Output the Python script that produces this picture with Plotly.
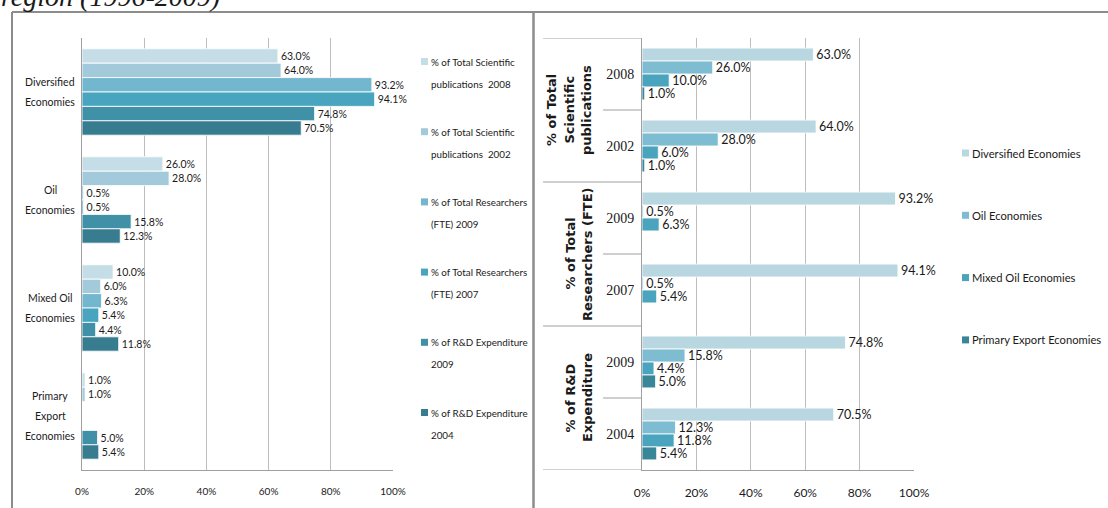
import plotly.graph_objects as go

W, H = 1108, 508

# ---- data -------------------------------------------------------------
economies = ["Diversified Economies", "Oil Economies",
             "Mixed Oil Economies", "Primary Export Economies"]
economy_labels = ["Diversified<br>Economies", "Oil<br>Economies",
                  "Mixed Oil<br>Economies", "Primary<br>Export<br>Economies"]

indicator_names = [
    "% of Total Scientific<br>publications  2008",
    "% of Total Scientific<br>publications  2002",
    "% of Total Researchers<br>(FTE) 2009",
    "% of Total Researchers<br>(FTE) 2007",
    "% of R&D Expenditure<br>2009",
    "% of R&D Expenditure<br>2004",
]

# share (%) of each economy group, one list per indicator
pubs_2008 = [63.0, 26.0, 10.0, 1.0]
pubs_2002 = [64.0, 28.0, 6.0, 1.0]
researchers_2009 = [93.2, 0.5, 6.3, None]
researchers_2007 = [94.1, 0.5, 5.4, None]
rnd_2009 = [74.8, 15.8, 4.4, 5.0]
rnd_2004 = [70.5, 12.3, 11.8, 5.4]
indicator_values = [pubs_2008, pubs_2002, researchers_2009,
                    researchers_2007, rnd_2009, rnd_2004]

indicator_ids = ["pubs-2008", "pubs-2002", "res-2009",
                 "res-2007", "rnd-2009", "rnd-2004"]
indicator_years = ["2008", "2002", "2009", "2007", "2009", "2004"]
indicator_groups = ["% of Total<br>Scientific<br>publications",
                    "% of Total<br>Researchers (FTE)",
                    "% of R&D<br>Expenditure"]

x_ticks = [0, 20, 40, 60, 80, 100]
x_tick_labels = ["0%", "20%", "40%", "60%", "80%", "100%"]

left_colors = ["#c4dde6", "#a3cadb", "#72b7ce", "#49a5bf", "#4090a7", "#387c90"]
right_colors = ["#b8d7e1", "#7ebdd1", "#4aa4bd", "#3a8699"]

SANS = "Lato, Liberation Sans, sans-serif"
SERIF = "Liberation Serif, Times New Roman, serif"
BOLD = "DejaVu Sans, Verdana, sans-serif"
INK = "#1a1a1a"
GRID = "#bdbdbd"
FRAME = "#8c8c8c"


def px(x):
    return x / W


def py(y):
    return 1 - y / H


def pct(v):
    return "" if v is None else f"{v:.1f}%"


fig = go.Figure()

# ---- left panel: one trace per indicator --------------------------------
for name, vals, col in zip(indicator_names, indicator_values, left_colors):
    fig.add_trace(go.Bar(
        y=economies, x=vals, orientation="h", name=name.replace("<br>", " "),
        marker=dict(color=col, line=dict(color="rgba(255,255,255,0.85)", width=1)),
        text=[pct(v) for v in vals], textposition="outside",
        textfont=dict(family=SANS, size=10.5, color=INK),
        constraintext="none", cliponaxis=False,
        xaxis="x", yaxis="y", showlegend=False, hoverinfo="skip",
    ))

# ---- right panel: one trace per economy group ---------------------------
n_eco = len(economies)
band = 0.72
bw = band / n_eco
for k, (eco, col) in enumerate(zip(economies, right_colors)):
    vals = [series[k] for series in indicator_values]
    fig.add_trace(go.Bar(
        y=indicator_ids, x=vals, orientation="h", name=eco,
        width=bw, offset=-band / 2 + k * bw,
        marker=dict(color=col, line=dict(color="rgba(255,255,255,0.85)", width=1)),
        text=[pct(v) for v in vals], textposition="outside",
        textfont=dict(family=SANS, size=12.5, color=INK),
        constraintext="none", cliponaxis=False,
        xaxis="x2", yaxis="y2", showlegend=False, hoverinfo="skip",
    ))

ydom = [py(470), py(38)]
axis_common = dict(range=[0, 100], tickmode="array", tickvals=x_ticks,
                   ticktext=x_tick_labels, automargin=False,
                   showgrid=True, gridcolor=GRID, gridwidth=1,
                   showline=True, linecolor="#a0a0a0", linewidth=1,
                   ticks="", zeroline=False, fixedrange=True)

fig.update_layout(
    width=W, height=H,
    margin=dict(l=0, r=0, t=0, b=0, pad=0, autoexpand=False),
    paper_bgcolor="white", plot_bgcolor="white",
    barmode="group", bargap=0.2, bargroupgap=0,
    xaxis=dict(domain=[px(82), px(393)], anchor="y",
               tickfont=dict(family=SANS, size=10, color=INK),
               ticklabelstandoff=12, **axis_common),
    yaxis=dict(domain=ydom, anchor="x", type="category", automargin=False,
               categoryarray=economies, range=[len(economies) - 0.5, -0.5],
               showticklabels=False, showgrid=False, showline=True,
               linecolor="#a0a0a0", ticks="", fixedrange=True),
    xaxis2=dict(domain=[px(642), px(914)], anchor="y2",
                tickfont=dict(family=SANS, size=12, color=INK),
                ticklabelstandoff=12, **axis_common),
    yaxis2=dict(domain=ydom, anchor="x2", type="category", automargin=False,
                categoryarray=indicator_ids,
                range=[len(indicator_ids) - 0.5, -0.5],
                tickmode="array", tickvals=indicator_ids, ticktext=indicator_years,
                tickfont=dict(family=SERIF, size=14, color=INK),
                ticklabelstandoff=4,
                showgrid=False, showline=True, linecolor="#a0a0a0",
                ticks="", fixedrange=True),
    showlegend=False,
)

shapes = []
annotations = []

# panel frames
frame = dict(type="line", xref="paper", yref="paper",
             line=dict(color=FRAME, width=2))
shapes.append(dict(frame, x0=px(12), x1=px(W + 5), y0=py(12), y1=py(12)))
shapes.append(dict(frame, x0=px(12), x1=px(12), y0=py(12), y1=py(H + 5)))
shapes.append(dict(frame, x0=px(533.5), x1=px(533.5), y0=py(12), y1=py(H + 5),
                   line=dict(color=FRAME, width=2.5)))

# left category labels, centred on each band
for eco, lab in zip(economies, economy_labels):
    lines = lab.split("<br>")
    n = len(lines)
    for i, t in enumerate(lines):
        annotations.append(dict(
            text=t, xref="paper", yref="y", x=px(50), y=eco,
            xanchor="center", yanchor="middle", showarrow=False,
            yshift=-(i - (n - 1) / 2) * 20,
            font=dict(family=SANS, size=10.5, color=INK)))

# left legend
for k, (name, col) in enumerate(zip(indicator_names, left_colors)):
    yc = 61.5 + 70.2 * k
    shapes.append(dict(type="rect", xref="paper", yref="paper",
                       x0=px(421), x1=px(428), y0=py(yc + 3.5), y1=py(yc - 3.5),
                       fillcolor=col, line=dict(width=0)))
    for i, t in enumerate(name.split("<br>")):
        annotations.append(dict(
            text=t, xref="paper", yref="paper", x=px(429), y=py(yc + 22 * i),
            xanchor="left", yanchor="middle", showarrow=False,
            font=dict(family=SANS, size=9.8, color=INK)))

# right category frame: group dividers and inner dividers
div = dict(type="line", xref="paper", yref="y2", line=dict(color="#a0a0a0", width=1))
for b in [-0.5, 1.5, 3.5, 5.5]:
    shapes.append(dict(div, x0=px(543), x1=px(642), y0=b, y1=b))
for b in [0.5, 2.5, 4.5]:
    shapes.append(dict(div, x0=px(603), x1=px(642), y0=b, y1=b))

# right group labels (rotated, stacked right-aligned)
for g, lab in enumerate(indicator_groups):
    lines = lab.split("<br>")
    n = len(lines)
    for i, t in enumerate(lines):
        annotations.append(dict(
            text=t, xref="paper", yref="y2", x=px(587 - 17.5 * (n - 1 - i)),
            y=2 * g + 0.5, xanchor="center", yanchor="middle",
            textangle=-90, showarrow=False,
            font=dict(family=BOLD, size=13, color=INK, weight="bold")))

# right legend
for k, (eco, col) in enumerate(zip(economies, right_colors)):
    yc = 153 + 62.3 * k
    shapes.append(dict(type="rect", xref="paper", yref="paper",
                       x0=px(962), x1=px(969), y0=py(yc + 3.5), y1=py(yc - 3.5),
                       fillcolor=col, line=dict(width=0)))
    annotations.append(dict(
        text=eco, xref="paper", yref="paper", x=px(970), y=py(yc),
        xanchor="left", yanchor="middle", showarrow=False,
        font=dict(family=SANS, size=11.2, color=INK)))

# caption line running off the top edge
annotations.append(dict(
    text="region (1996-2009)", xref="paper", yref="paper",
    x=px(-1), y=py(14), xanchor="left", yanchor="bottom", showarrow=False,
    font=dict(family=SERIF, size=28, color=INK, style="italic")))

fig.update_layout(shapes=shapes, annotations=annotations)
fig.write_html("out.html")
